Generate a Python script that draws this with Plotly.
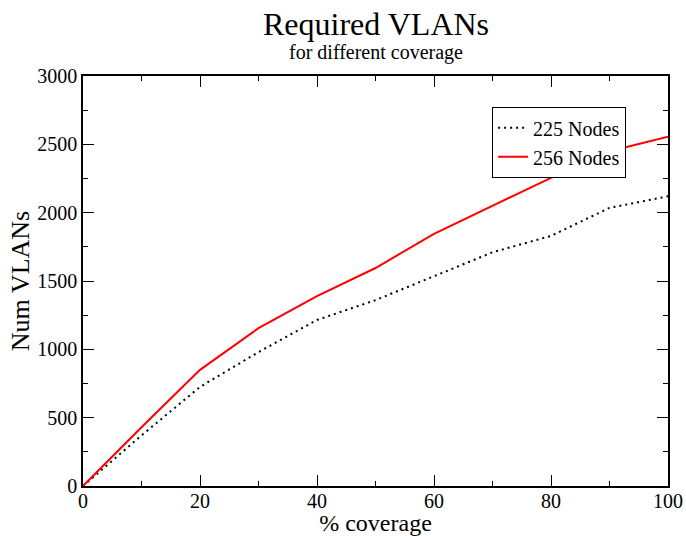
import plotly.graph_objects as go

coverage = [0, 10, 20, 30, 40, 50, 60, 70, 80, 90, 100]
nodes_225 = [0, 370, 725, 980, 1215, 1360, 1535, 1710, 1830, 2035, 2120]
nodes_256 = [0, 430, 850, 1155, 1390, 1595, 1845, 2050, 2255, 2450, 2555]

FONT = "'Liberation Serif', 'Times New Roman', serif"

fig = go.Figure()
fig.add_trace(go.Scatter(x=coverage, y=nodes_225, mode="lines", name="225 Nodes",
                         line=dict(color="black", width=2, dash="2px,4px")))
fig.add_trace(go.Scatter(x=coverage, y=nodes_256, mode="lines", name="256 Nodes",
                         line=dict(color="#ff0000", width=2)))

axis_common = dict(showgrid=False, zeroline=False, showline=True, linecolor="black",
                   linewidth=1.6, mirror="allticks", ticks="inside", ticklen=11,
                   tickwidth=1.2, tickcolor="black", automargin=False,
                   tickfont=dict(family=FONT, size=20, color="black"))

fig.update_xaxes(range=[0, 100], dtick=20, ticklabelstandoff=-4,
                 title=dict(text="% coverage", font=dict(family=FONT, size=24, color="black"), standoff=0),
                 minor=dict(ticks="inside", dtick=10, ticklen=5, tickcolor="black", tickwidth=1.2),
                 **axis_common)
fig.update_yaxes(range=[0, 3000], dtick=500,
                 title=dict(text="Num VLANs", font=dict(family=FONT, size=26, color="black"), standoff=0),
                 minor=dict(ticks="inside", dtick=250, ticklen=5, tickcolor="black", tickwidth=1.2),
                 **axis_common)

fig.update_layout(
    width=686, height=536,
    margin=dict(l=83, r=18, t=76, b=50, autoexpand=False),
    paper_bgcolor="white", plot_bgcolor="white",
    font=dict(family=FONT, color="black"),
    showlegend=True,
    legend=dict(x=0.699, y=0.924, xanchor="left", yanchor="top",
                bordercolor="black", borderwidth=1.2, bgcolor="white",
                font=dict(family=FONT, size=20, color="black"),
                tracegroupgap=0, itemwidth=30),
)
fig.add_annotation(text="Required VLANs", xref="paper", yref="paper", x=0.5, y=1.0,
                   yanchor="middle", yshift=52, showarrow=False,
                   font=dict(family=FONT, size=32, color="black"))
fig.add_annotation(text="for different coverage", xref="paper", yref="paper", x=0.5, y=1.0,
                   yanchor="middle", yshift=24, showarrow=False,
                   font=dict(family=FONT, size=20, color="black"))

fig.write_html("out.html")
